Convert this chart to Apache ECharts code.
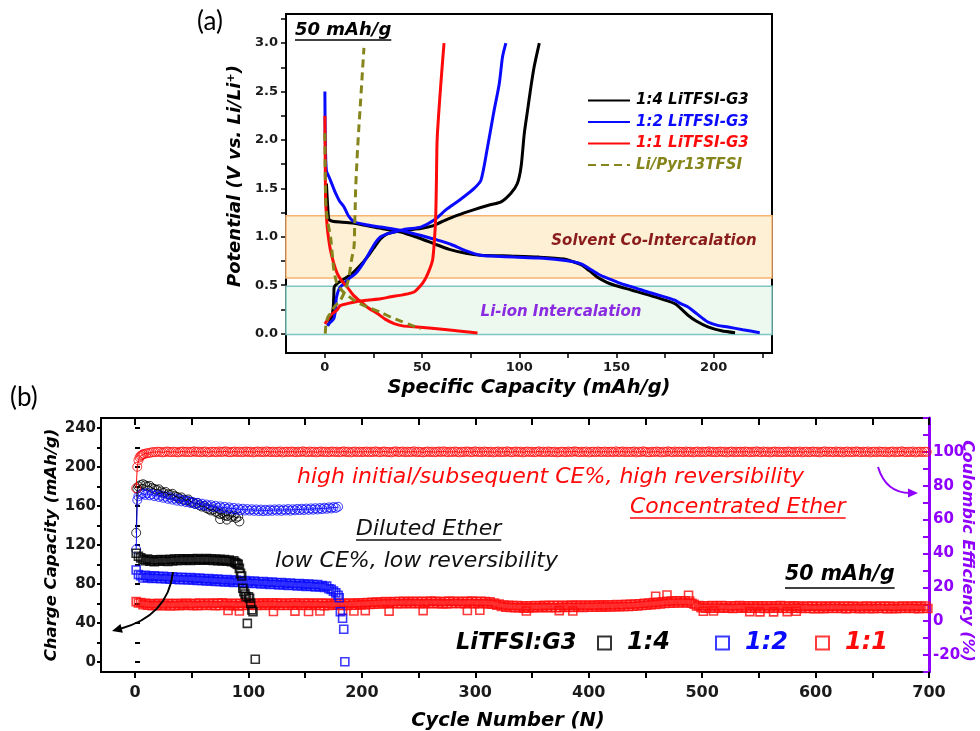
<!DOCTYPE html>
<html>
<head>
<meta charset="utf-8">
<script src="https://cdn.jsdelivr.net/npm/echarts@6/dist/echarts.min.js"></script>
<style>
html,body{margin:0;padding:0;background:#fff;}
#main{width:980px;height:731px;}
</style>
</head>
<body>
<div id="main"></div>
<script>
// ===== Panel (a): galvanostatic profiles, [specific capacity (mAh/g), potential (V)] =====
const g14Discharge = [[0.8,1.55],[1.5,1.3],[2.1,1.18],[4,1.16],[9,1.15],[15,1.14],[25,1.10],[39,1.05],[48,0.99],[56,0.93],[64,0.87],[72.5,0.83],[80,0.81],[97,0.80],[110,0.79],[123,0.77],[128,0.74],[132,0.71],[136,0.65],[140,0.585],[145,0.53],[149,0.50],[157.6,0.45],[169.6,0.38],[180,0.31],[183,0.26],[186.8,0.19],[191,0.13],[197,0.07],[204,0.03],[211,0.01]];
const g14Charge = [[1.5,0.08],[3.5,0.17],[4.3,0.27],[4.6,0.40],[4.8,0.48],[7.2,0.53],[14,0.62],[18,0.70],[21.8,0.79],[25,0.88],[28.7,0.98],[32,1.03],[35.6,1.05],[42,1.07],[49.3,1.085],[55,1.11],[59.6,1.15],[68,1.22],[76.8,1.28],[85,1.33],[90.6,1.36],[95.7,1.45],[99,1.55],[100.9,1.72],[102.6,2.07],[104.3,2.31],[106,2.55],[107.7,2.76],[110.3,3.0]];
const g12Discharge = [[0,2.5],[0.1,2.2],[0.3,1.9],[0.8,1.68],[2.1,1.62],[3.5,1.55],[5.5,1.45],[7.5,1.37],[9.8,1.31],[12,1.22],[15,1.155],[20,1.13],[28.7,1.10],[35,1.08],[42.5,1.05],[50,1.01],[58,0.965],[65,0.92],[72,0.86],[80,0.81],[88,0.80],[97.4,0.79],[110,0.78],[121.5,0.76],[127,0.745],[131.8,0.72],[137,0.66],[142,0.60],[147,0.56],[152.4,0.517],[160,0.47],[166,0.43],[173,0.39],[180,0.345],[183,0.31],[186.8,0.275],[191,0.21],[197,0.12],[202,0.085],[207.4,0.068],[215,0.04],[223.7,0.01]];
const g12Charge = [[1.2,0.086],[3,0.12],[4.6,0.155],[5.3,0.22],[5.5,0.275],[6,0.38],[7.5,0.47],[9.8,0.517],[12.5,0.57],[15.8,0.62],[19.5,0.72],[23.6,0.86],[26,0.94],[28.7,1.0],[32,1.03],[35.6,1.05],[42,1.08],[49.3,1.10],[56,1.17],[63,1.29],[70,1.39],[76.8,1.50],[80.3,1.585],[83.7,1.93],[85.5,2.13],[87.1,2.31],[89.7,2.58],[91.4,2.86],[93.1,3.0]];
const g11Discharge = [[0,2.25],[0.1,2.0],[0.2,1.7],[0.36,1.38],[0.7,1.25],[1.2,1.10],[2,0.97],[2.9,0.86],[4.5,0.73],[6.4,0.62],[8.5,0.55],[11.5,0.48],[14.5,0.40],[18.4,0.33],[22,0.27],[27,0.207],[31,0.15],[35.6,0.103],[40,0.08],[45.9,0.07],[55,0.055],[63,0.04],[70,0.025],[78.5,0.006]];
const g11Charge = [[0,0.1],[1.2,0.137],[2.9,0.19],[6,0.24],[8,0.29],[11.5,0.31],[16,0.33],[21.8,0.345],[28.7,0.36],[33.9,0.38],[40,0.40],[45.9,0.43],[49,0.49],[51.5,0.56],[53.6,0.65],[55.4,0.76],[56.3,0.95],[57,1.2],[57.4,1.6],[57.6,1.9],[57.9,2.07],[59,2.4],[60.3,2.75],[61.3,3.0]];
const pyrDischarge = [[0,2.07],[0.1,1.8],[0.3,1.5],[0.6,1.3],[1.5,1.15],[2.9,1.0],[3.8,0.82],[4.6,0.66],[6.2,0.52],[9,0.44],[12,0.39],[15,0.345],[18,0.31],[21.8,0.275],[28.7,0.22],[33.9,0.17],[39,0.13],[44,0.09],[49.3,0.05]];
const pyrCharge = [[0.2,0.0],[0.5,0.08],[1.5,0.17],[2.9,0.21],[5,0.28],[8,0.345],[10.5,0.45],[12.4,0.585],[13.6,0.75],[15,0.9],[15.3,1.1],[15.6,1.3],[15.8,1.48],[16.3,1.7],[16.8,1.9],[17.4,2.1],[18.4,2.41],[19.3,2.7],[20.1,2.95]];

const capTicksA = [0,25,50,75,100,125,150,175,200,225];
const capLabelsA = [0,50,100,150,200];
const potTicksA = [0,0.25,0.5,0.75,1,1.25,1.5,1.75,2,2.25,2.5,2.75,3,3.25];
const potLabelsA = [0,0.5,1,1.5,2,2.5,3];
const legendNamesA = ['1:4 LiTFSI-G3','1:2 LiTFSI-G3','1:1 LiTFSI-G3','Li/Pyr13TFSI'];
// potential windows: [low, high] in V
const coIntercalationBand = [0.575,1.216];
const liIonBand = [-0.01,0.49];

// ===== Panel (b): cycling at 50 mAh/g =====
// main capacity arrays hold every 2nd cycle starting from cycle 1
const cap14 = [111.5,108.5,106.8,105.2,104.0,105.5,103.4,104.6,102.9,104.8,103.3,105.1,103.6,104.9,103.1,105.4,103.8,105.6,104.1,105.9,104.3,106.0,104.5,105.8,104.2,105.9,104.6,106.1,104.4,105.7,104.8,106.2,104.5,105.9,104.2,105.6,104.0,105.3,103.8,105.0,103.5,104.6,102.8,103.9,101.6,100.2];
const cap14Tail = [[88,102.2],[90,100.5],[92,96.1],[93,91.0],[94,88.3],[95,75.7],[96,72.3],[97,69.9],[98,67.2],[99,39.8],[100,67.0],[101,65.5],[102,60.4],[103,53.6],[104,51.7],[106,3.0]];
const cap12 = [94.4,89.8,88.6,86.2,88.9,86.5,88.1,85.8,88.4,86.0,87.7,85.4,87.9,85.6,87.3,84.9,87.5,85.1,86.8,84.5,87.0,84.7,86.4,84.1,86.6,84.3,85.9,83.6,86.1,83.8,85.4,83.1,85.6,83.3,84.9,82.6,85.1,82.8,84.4,82.1,84.6,82.3,83.9,81.6,84.1,81.8,83.4,81.1,83.6,81.3,82.9,80.6,83.1,80.8,82.4,80.1,82.6,80.3,81.9,79.6,82.1,79.8,81.4,79.1,81.6,79.3,80.9,78.6,81.1,78.8,80.4,78.1,80.6,78.3,79.9,77.6,80.1,77.8,79.4,77.1,79.6,77.3,78.6,76.5,77.9,75.2,74.6,72.8,71.0,68.5];
const cap12Tail = [[180,66.0],[181,51.7],[183,45.0],[184,33.7],[185,0.5]];
const cap11 = [
 62.0,60.6,61.1,58.9,60.4,58.3,60.1,57.9,59.8,58.2,60.3,57.8,59.6,58.0,60.2,57.6,59.9,58.1,60.4,57.9,59.7,58.3,60.5,58.0,59.8,
 58.2,60.3,57.9,60.6,58.4,60.1,58.0,60.7,58.3,60.2,57.8,60.5,58.1,60.8,58.4,60.0,57.9,60.4,58.2,60.1,57.7,60.3,58.0,60.5,58.3,
 60.1,58.4,60.6,58.0,60.3,58.5,60.8,58.2,60.4,58.6,60.9,58.3,60.5,58.1,60.7,58.4,60.2,58.0,60.6,58.3,60.9,58.5,60.4,58.1,60.6,
 58.3,60.5,58.0,60.2,58.4,60.7,58.1,60.3,57.9,60.5,58.2,60.1,58.5,60.6,58.3,60.2,58.0,60.4,58.2,60.7,58.4,60.3,58.6,60.8,58.7,
 60.6,58.8,61.0,59.1,61.3,59.3,61.5,59.6,61.7,59.8,62.0,59.9,61.8,60.1,62.2,59.9,62.1,60.0,62.4,60.2,62.0,59.8,62.3,60.1,62.2,
 60.0,62.4,59.8,62.1,60.2,62.5,59.9,62.3,60.1,62.0,59.7,62.2,60.0,62.5,59.9,62.1,60.3,62.4,60.0,62.2,59.8,62.3,60.1,62.6,60.0,
 62.2,59.9,62.4,60.1,62.0,59.7,61.8,59.3,60.6,58.4,59.5,57.1,58.6,56.4,58.2,56.0,57.9,55.7,58.1,55.9,57.6,55.4,57.8,55.6,57.5,
 55.7,58.0,55.8,57.7,56.0,58.2,55.9,58.0,56.1,58.3,55.8,58.1,56.0,58.4,56.2,58.1,56.3,58.5,56.1,58.3,56.4,58.6,56.2,58.4,56.5,
 58.5,56.3,58.3,56.6,58.7,56.4,58.5,56.7,58.8,56.5,58.6,56.8,59.0,56.9,58.9,57.1,59.2,57.0,59.4,57.3,59.6,57.6,59.9,58.0,60.2,
 58.3,60.6,58.8,61.0,59.2,61.4,59.6,61.9,60.1,62.3,60.4,62.6,60.7,62.9,60.6,62.8,60.9,63.0,60.7,62.7,60.3,59.4,57.6,57.9,55.8,
 57.8,55.4,57.6,55.2,57.9,55.5,57.7,55.3,58.0,55.6,57.8,55.4,57.5,55.1,57.7,55.3,57.9,55.6,57.6,55.4,57.8,55.2,57.5,55.5,57.7,
 55.3,57.6,55.1,57.8,55.4,57.5,55.2,57.7,55.5,57.9,55.3,57.6,55.0,57.4,55.2,57.7,55.4,57.5,55.1,57.3,55.3,57.6,55.0,57.4,54.9,
 57.3,55.1,57.5,54.9,57.2,55.2,57.4,55.0,57.6,55.3,57.3,55.1,57.5,54.8,57.2,55.0,57.4,55.2,57.1,54.9,57.3,55.1,57.5,55.0,57.2,
 54.9,57.3,55.2,57.5,55.0,57.2,54.8,57.4,55.1,57.1,54.9,57.3,55.2,57.5,55.0,57.2,55.3,57.6,55.1,57.4,54.9,57.3,55.2,57.5,55.0];
const cap11Stray = [[82,53.0],[92,52.5],[122,52.0],[141,52.3],[153,52.0],[163,52.5],[183,52.8],[193,52.5],[203,52.8],[224,52.3],[254,52.8],[293,53.0],[304,53.2],[345,52.5],[374,52.8],[386,52.5],[459,67.5],[469,68.8],[488,68.5],[501,52.2],[510,52.5],[542,51.8],[551,51.5],[563,51.5],[575,51.8],[583,52.2]];

// Coulombic efficiency (%): first cycles listed individually, then every 2nd cycle
const ce14Head = [[1,52.2],[2,78.3]];
const ce14 = [79.6,80.4,80.9,80.2,79.5,79.9,78.6,78.1,77.5,77.9,76.6,75.8,76.3,75.0,74.6,75.2,73.9,73.4,72.6,73.1,71.8,71.3,71.9,70.5,70.0,69.3,69.8,68.4,67.7,68.1,66.8,66.2,65.4,66.0,64.6,64.0,63.2,63.8,62.6,62.1,63.0,61.6,62.3,61.0,61.8];
const ce14Low = [[75,60.3],[81,60.0],[92,58.9]];
const ce12Head = [[1,42.4],[2,71.6]];
const ce12 = [73.8,74.9,75.4,74.6,75.6,74.3,75.1,73.9,74.7,73.4,74.2,72.9,73.6,72.3,73.1,71.8,72.5,71.2,72.0,70.8,71.5,70.3,71.0,69.8,70.4,69.2,69.9,68.7,69.4,68.2,68.9,67.8,68.5,67.4,68.1,67.0,67.8,66.7,67.5,66.4,67.2,66.1,66.9,65.8,66.6,65.6,66.4,65.4,66.2,65.3,66.1,65.2,66.0,65.1,65.9,65.0,65.8,65.1,65.9,65.2,66.0,65.3,66.1,65.2,66.0,65.4,66.2,65.3,66.1,65.5,66.3,65.6,66.4,65.7,66.5,65.8,66.6,65.9,66.7,66.0,66.8,66.2,67.0,66.4,67.2,66.6,67.4,66.9,67.6];
const ce11Head = [[1,78.5],[2,91.2],[3,95.0],[4,96.8],[5,97.6],[6,98.1],[7,98.5],[8,98.8],[10,99.1],[12,99.3]];
// 1:1 efficiency from cycle 14 to 698, every 2nd cycle
const ce11 = [
 99.6,99.9,99.8,100.1,100.0,99.7,99.9,100.2,100.0,99.8,100.1,99.9,99.7,100.0,100.2,99.9,100.1,99.8,100.0,100.3,
 99.9,100.1,99.8,100.0,100.2,99.7,99.9,100.1,100.0,99.8,100.2,99.9,100.1,100.3,99.9,99.8,100.0,100.2,99.9,100.1,
 99.8,100.0,100.2,99.9,100.1,99.7,100.0,100.2,99.9,100.1,99.8,100.3,100.0,99.9,100.1,99.8,100.0,100.2,99.7,100.0,
 100.1,99.9,100.2,100.0,99.8,100.1,99.9,100.3,100.0,99.8,100.2,99.9,100.1,99.7,100.0,100.2,99.9,100.1,99.8,100.0,
 100.2,99.9,100.1,99.8,100.0,100.3,99.9,100.1,99.7,100.0,100.2,99.8,100.1,99.9,100.0,100.2,99.8,100.1,99.9,100.3,
 100.0,99.8,100.1,100.2,99.9,100.0,99.7,100.1,100.3,99.9,100.0,100.2,99.8,100.1,99.9,100.0,100.3,99.8,100.1,99.9,
 99.7,100.0,100.2,99.9,100.1,99.8,100.0,100.2,99.9,100.3,100.0,99.8,100.1,99.9,100.2,100.0,99.7,100.1,99.9,100.2,
 100.1,99.8,100.0,100.3,99.9,100.1,99.8,100.2,100.0,99.9,100.1,99.7,100.0,100.2,99.8,100.1,99.9,100.3,100.0,99.8,
 100.0,100.2,99.9,100.1,99.7,100.0,100.2,99.9,100.1,99.8,100.0,100.3,99.9,100.1,99.8,100.2,100.0,99.9,100.1,99.7,
 99.9,100.1,100.0,99.8,100.2,99.9,100.1,100.3,100.0,99.8,100.1,99.9,100.2,99.7,100.0,100.1,99.8,100.2,100.0,99.9,
 100.2,99.9,100.0,100.1,99.8,100.3,99.9,100.0,100.2,99.8,100.1,99.9,100.0,100.2,99.7,100.1,99.9,100.3,100.0,99.8,
 99.8,100.1,99.9,100.2,100.0,99.7,100.1,99.9,100.3,100.0,99.8,100.2,99.9,100.1,100.0,99.8,100.2,99.9,100.1,99.7,
 100.0,100.2,99.8,100.1,99.9,100.0,100.3,99.9,100.1,99.8,100.0,100.2,99.9,100.1,99.7,100.0,100.2,99.8,100.1,99.9,
 100.1,99.9,100.2,100.0,99.8,100.1,99.9,100.3,100.0,99.8,100.2,99.9,100.1,99.7,100.0,100.2,99.9,100.1,99.8,100.0,
 99.9,100.2,100.0,99.8,100.1,99.9,100.2,99.7,100.0,100.1,99.8,100.0,100.2,99.9,100.1,99.7,100.0,100.3,99.9,100.1,
 100.0,99.8,100.2,99.9,100.1,99.7,100.0,100.2,99.8,100.1,99.9,100.3,100.0,99.8,100.1,99.9,100.2,99.7,100.0,100.1,
 99.8,100.2,100.0,99.9,100.1,99.7,100.0,100.2,99.8,100.1,99.9,100.3,100.0,99.8,100.1,99.9,100.2,99.7,100.0,100.1,
 99.9,100.1,100.0];

const cycleTicks = [0,50,100,150,200,250,300,350,400,450,500,550,600,650,700];
const cycleLabels = [0,100,200,300,400,500,600,700];
const capTicksB = [0,20,40,60,80,100,120,140,160,180,200,220,240];
const capLabelsB = [0,40,80,120,160,200,240];
const ceTicks = [-30,-20,-10,0,10,20,30,40,50,60,70,80,90,100,110,120];
const ceLabels = [-20,0,20,40,60,80,100];
const ratioNames = ['1:4','1:2','1:1'];

// ===== styling =====
const F = '"DejaVu Sans", Verdana, sans-serif';
const BLACK = '#000000', BLUE = '#0a0aff', RED = '#ff0a0a', OLIVE = '#85851b', PURPLE = '#9000ff';

function stepped(values, first, step) {
  return values.map(function (v, i) { return [first + i * step, v]; });
}

const chart = echarts.init(document.getElementById('main'), null, {renderer: 'canvas'});

function curve(name, data, color, dashed) {
  return {
    type: 'line', name: name, xAxisIndex: 0, yAxisIndex: 0, data: data,
    symbol: 'none', smooth: 0.25, z: 3, silent: true,
    lineStyle: {color: color, width: 3, type: dashed ? [8, 5] : 'solid'},
    itemStyle: {color: color}
  };
}
function capSeries(name, data, color) {
  return {
    type: 'scatter', name: name, xAxisIndex: 1, yAxisIndex: 1, data: data,
    symbol: 'rect', symbolSize: 8, silent: true,
    itemStyle: {color: 'rgba(0,0,0,0)', borderColor: color, borderWidth: 1.6}
  };
}
// efficiency: thin connecting line plus hollow circles
function ceSeries(name, data, color, withLine) {
  const out = [];
  if (withLine) {
    out.push({
      type: 'line', name: name + ' trace', xAxisIndex: 1, yAxisIndex: 2, data: data,
      symbol: 'none', silent: true, lineStyle: {color: color, width: 1}
    });
  }
  out.push({
    type: 'scatter', name: name, xAxisIndex: 1, yAxisIndex: 2, data: data,
    symbol: 'circle', symbolSize: 9, silent: true,
    itemStyle: {color: 'rgba(0,0,0,0)', borderColor: color, borderWidth: 1}
  });
  return out;
}

const axisLineBlack = {show: true, onZero: false, lineStyle: {color: '#000', width: 2}};
const tickFont = {fontFamily: F, fontWeight: 'bold', color: '#1a1a1a'};

// text helpers for annotations
const measureCtx = document.createElement('canvas').getContext('2d');
function textW(t, size, weight, style) {
  measureCtx.font = style + ' ' + weight + ' ' + size + 'px "DejaVu Sans"';
  return measureCtx.measureText(t).width;
}
function txt(t, x, y, o) {
  o = o || {};
  return {
    type: 'text', x: x, y: y, z: 100, silent: true, rotation: o.rotation || 0,
    style: {
      text: t, fill: o.color || '#000', fontSize: o.size || 16,
      fontFamily: o.family || F, fontWeight: o.weight || 'normal', fontStyle: o.style || 'normal',
      align: o.align || 'left', verticalAlign: 'middle'
    }
  };
}
function underline(t, x, y, uy, o) {
  const w = textW(t, o.size, o.weight || 'normal', o.style || 'normal');
  return [txt(t, x, y, o), {
    type: 'line', z: 100, silent: true,
    shape: {x1: x, y1: uy, x2: x + w, y2: uy},
    style: {stroke: o.color || '#000', lineWidth: 1.6}
  }];
}
function arrow(x1, y1, cx, cy, x2, y2, color) {
  const dx = x2 - cx, dy = y2 - cy, L = Math.hypot(dx, dy);
  const ux = dx / L, uy = dy / L, len = 10, half = 4.5;
  const bx = x2 - ux * len, by = y2 - uy * len;
  return [
    {type: 'bezierCurve', z: 100, silent: true,
     shape: {x1: x1, y1: y1, cpx1: cx, cpy1: cy, x2: bx + ux * 2, y2: by + uy * 2},
     style: {stroke: color, lineWidth: 2, fill: 'none'}},
    {type: 'polygon', z: 100, silent: true,
     shape: {points: [[x2, y2], [bx - uy * half, by + ux * half], [bx + uy * half, by - ux * half]]},
     style: {fill: color}}
  ];
}

const bi = {weight: 'bold', style: 'italic'};
const graphics = [].concat(
  [txt('(a)', 197, 22, {size: 26, family: 'Lato, "Open Sans", sans-serif'})],
  [txt('(b)', 10, 398, {size: 26, family: 'Lato, "Open Sans", sans-serif'})],
  underline('50 mAh/g', 295, 30, 40, Object.assign({size: 18}, bi)),
  [txt('Solvent Co-Intercalation', 654, 241, Object.assign({size: 15, color: '#8b1c1c', align: 'center'}, bi))],
  [txt('Li-ion Intercalation', 561, 312, Object.assign({size: 15, color: '#8a2be2', align: 'center'}, bi))],
  [txt('Potential (V vs. Li/Li\u207A)', 235, 176, Object.assign({size: 18, align: 'center', rotation: Math.PI / 2}, bi))],
  [txt('Specific Capacity (mAh/g)', 529, 388, Object.assign({size: 19.5, align: 'center'}, bi))],
  [txt('Charge Capacity (mAh/g)', 52, 545, Object.assign({size: 16.5, align: 'center', rotation: Math.PI / 2}, bi))],
  [txt('Coulombic Efficiency (%)', 967, 551, Object.assign({size: 16, align: 'center', color: PURPLE, rotation: -Math.PI / 2}, bi))],
  [txt('Cycle Number (N)', 508, 721, Object.assign({size: 19.5, align: 'center'}, bi))],
  [txt('high initial/subsequent CE%, high reversibility', 297, 477, {size: 22, style: 'italic', color: RED})],
  underline('Concentrated Ether', 630, 507, 518, {size: 22, style: 'italic', color: RED}),
  underline('Diluted Ether', 356, 529, 540, {size: 22, style: 'italic', color: '#111'}),
  [txt('low CE%, low reversibility', 275, 561, {size: 22, style: 'italic', color: '#111'})],
  underline('50 mAh/g', 785, 575, 588, Object.assign({size: 20.5}, bi)),
  [txt('LiTFSI:G3', 456, 643, Object.assign({size: 22.5}, bi))],
  arrow(173, 572, 168, 616, 112, 631, '#000'),
  arrow(878, 467, 886, 493, 918, 493, PURPLE)
);

function ratioLegend(name, left, color) {
  return {
    show: true, selectedMode: false, left: left, top: 626, icon: 'rect',
    itemWidth: 13, itemHeight: 13, data: [name],
    itemStyle: {borderWidth: 2},
    textStyle: {fontFamily: F, fontSize: 24, fontWeight: 'bold', fontStyle: 'italic', color: color, padding: [0, 0, 0, 11]}
  };
}

const option = {
  animation: false,
  backgroundColor: '#ffffff',
  grid: [
    {left: 286, top: 14, width: 486, height: 339, show: true, borderColor: '#000', borderWidth: 2, backgroundColor: 'transparent'},
    {left: 101, top: 418, width: 828, height: 254, show: true, borderColor: '#000', borderWidth: 2, backgroundColor: 'transparent'}
  ],
  legend: [
    {
      show: true, selectedMode: false, orient: 'vertical', left: 582, top: 88,
      itemWidth: 42, itemHeight: 12, itemGap: 6.5,
      itemStyle: {opacity: 0},
      data: legendNamesA.map(function (n, i) {
        return {name: n, textStyle: {color: [BLACK, BLUE, RED, OLIVE][i]}};
      }),
      textStyle: {fontFamily: F, fontSize: 15, fontWeight: 'bold', fontStyle: 'italic', padding: [0, 0, 0, 1]}
    },
    ratioLegend(ratioNames[0], 592, BLACK),
    ratioLegend(ratioNames[1], 710, BLUE),
    ratioLegend(ratioNames[2], 810, RED)
  ],
  xAxis: [
    {
      gridIndex: 0, type: 'value', min: -20, max: 230,
      axisLine: axisLineBlack,
      axisTick: {show: true, customValues: capTicksA, length: 5, lineStyle: {color: '#000', width: 1.5}},
      axisLabel: Object.assign({customValues: capLabelsA, fontSize: 13, margin: 8}, tickFont),
      splitLine: {show: false}
    },
    {
      gridIndex: 1, type: 'value', min: -30, max: 700,
      axisLine: axisLineBlack,
      axisTick: {show: true, customValues: cycleTicks, length: 6, lineStyle: {color: '#000', width: 2}},
      axisLabel: Object.assign({customValues: cycleLabels, fontSize: 16, margin: 13}, tickFont),
      splitLine: {show: false}
    },
    {
      gridIndex: 1, type: 'value', position: 'top', min: -30, max: 700,
      axisLine: axisLineBlack,
      axisTick: {show: true, inside: true, customValues: cycleTicks, length: 7, lineStyle: {color: '#000', width: 2}},
      axisLabel: {show: false},
      splitLine: {show: false}
    }
  ],
  yAxis: [
    {
      gridIndex: 0, type: 'value', min: -0.2, max: 3.3,
      axisLine: axisLineBlack,
      axisTick: {show: true, customValues: potTicksA, length: 5, lineStyle: {color: '#000', width: 1.5}},
      axisLabel: Object.assign({customValues: potLabelsA, fontSize: 13, margin: 8,
        formatter: function (v) { return Number(v).toFixed(1); }}, tickFont),
      splitLine: {show: false}
    },
    {
      gridIndex: 1, type: 'value', min: -10, max: 250,
      axisLine: axisLineBlack,
      axisTick: {show: true, customValues: capTicksB, length: 4, lineStyle: {color: '#000', width: 2}},
      axisLabel: Object.assign({customValues: capLabelsB, fontSize: 15, margin: 5}, tickFont),
      splitLine: {show: false}
    },
    {
      gridIndex: 1, type: 'value', position: 'right', min: -30, max: 120,
      axisLine: {show: true, onZero: false, lineStyle: {color: PURPLE, width: 3}},
      axisTick: {show: true, inside: true, customValues: ceTicks, length: 6, lineStyle: {color: PURPLE, width: 2}},
      axisLabel: {customValues: ceLabels, fontSize: 15, margin: 4, fontFamily: F, fontWeight: 'bold', color: PURPLE},
      splitLine: {show: false}
    },
    {
      gridIndex: 1, type: 'value', position: 'left', min: -10, max: 250,
      axisLine: {show: false},
      axisTick: {show: true, inside: true, customValues: capTicksB, length: 5, lineStyle: {color: '#000', width: 2}},
      axisLabel: {show: false},
      splitLine: {show: false}
    }
  ],
  series: [].concat(
    [{
      type: 'line', name: 'potential windows', xAxisIndex: 0, yAxisIndex: 0, data: [], z: 1, silent: true,
      markArea: {
        silent: true,
        data: [
          [{yAxis: coIntercalationBand[0], itemStyle: {color: '#fdf0d5', borderColor: '#f7b370', borderWidth: 1.5}}, {yAxis: coIntercalationBand[1]}],
          [{yAxis: liIonBand[0], itemStyle: {color: '#edf9ee', borderColor: '#7dc6c1', borderWidth: 1.5}}, {yAxis: liIonBand[1]}]
        ]
      }
    }],
    curve(legendNamesA[0], g14Discharge, BLACK),
    curve(legendNamesA[0], g14Charge, BLACK),
    curve(legendNamesA[1], g12Discharge, BLUE),
    curve(legendNamesA[1], g12Charge, BLUE),
    curve(legendNamesA[2], g11Discharge, RED),
    curve(legendNamesA[2], g11Charge, RED),
    curve(legendNamesA[3], pyrDischarge, OLIVE, true),
    curve(legendNamesA[3], pyrCharge, OLIVE, true),

    ceSeries('CE 1:4', ce14Head.concat(stepped(ce14, 3, 2)), BLACK, true),
    ceSeries('CE 1:4 low', ce14Low, BLACK, false),
    ceSeries('CE 1:2', ce12Head.concat(stepped(ce12, 3, 2)), BLUE, true),
    ceSeries('CE 1:1', ce11Head.concat(stepped(ce11, 14, 2)), RED, true),

    capSeries(ratioNames[2], stepped(cap11, 1, 2).concat(cap11Stray), RED),
    capSeries(ratioNames[1], stepped(cap12, 1, 2).concat(cap12Tail), BLUE),
    capSeries(ratioNames[0], stepped(cap14, 1, 2).concat(cap14Tail), BLACK)
  ),
  graphic: graphics
};

chart.setOption(option);
</script>
</body>
</html>
